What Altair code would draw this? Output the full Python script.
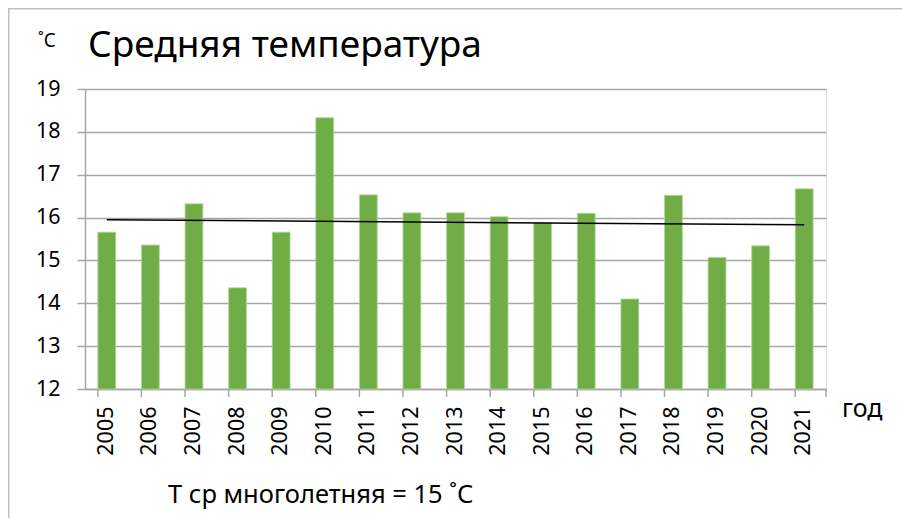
import altair as alt
import pandas as pd

# ---- data ----
years = ["2005", "2006", "2007", "2008", "2009", "2010", "2011", "2012", "2013",
         "2014", "2015", "2016", "2017", "2018", "2019", "2020", "2021"]
temps = [15.66, 15.36, 16.32, 14.36, 15.66, 18.33, 16.53, 16.11, 16.11,
         16.02, 15.88, 16.10, 14.10, 16.52, 15.07, 15.34, 16.67]
y_ticks = [12, 13, 14, 15, 16, 17, 18, 19]

title_text = "Средняя температура"
unit_text = "˚С"
x_unit_text = "год"
note_text = "T ср многолетняя = 15 ˚С"

FONT = "Noto Sans"
GRID = "#a6a6a6"
W, H = 741, 300

df = pd.DataFrame({"year": years, "yr": [int(y) for y in years], "temp": temps})
one = pd.DataFrame({"k": [0]})

x_scale = alt.Scale(paddingInner=0.59, paddingOuter=0.295)
x_enc = alt.X("year:N", title=None, scale=x_scale,
              axis=alt.Axis(labelAngle=270, labelFontSize=21.5, labelFont=FONT,
                            labelColor="black", labelPadding=17, ticks=False,
                            domainColor=GRID, domainWidth=1.5, grid=False))
y_enc = alt.Y("temp:Q", title=None,
              scale=alt.Scale(domain=[12, 19], zero=False, nice=False),
              axis=alt.Axis(values=y_ticks, labelFontSize=21.5, labelFont=FONT,
                            labelColor="black", labelPadding=17, tickSize=8,
                            tickColor=GRID, tickWidth=1.5, domainColor=GRID,
                            domainWidth=1.5, gridColor=GRID, gridWidth=1.5))

bars = alt.Chart(df).mark_bar(color="#70AD47", stroke="#b5d89c", strokeWidth=0.8).encode(
    x=x_enc, y=y_enc, y2=alt.datum(12)
)

trend = alt.Chart(df).transform_regression("yr", "temp").transform_calculate(
    year="toString(datum.yr)"
).mark_line(color="black", strokeWidth=1.5).encode(
    x=alt.X("year:N", scale=x_scale, title=None),
    y=alt.Y("temp:Q"),
)

xticks = alt.Chart(df).mark_rule(color=GRID, strokeWidth=1.5).encode(
    x=alt.X("year:N", bandPosition=0, scale=x_scale, title=None),
    y=alt.value(H), y2=alt.value(H + 8),
)
last_tick = alt.Chart(one).mark_rule(color=GRID, strokeWidth=1.5).encode(
    x=alt.value(W), y=alt.value(H), y2=alt.value(H + 8)
)

def label(text, x, y, size):
    return alt.Chart(one).mark_text(
        text=text, align="left", baseline="alphabetic", font=FONT,
        fontSize=size, color="black"
    ).encode(x=alt.value(x), y=alt.value(y))

title = label(title_text, 3, -32, 37)
unit = label(unit_text, -47, -42, 19)
xunit = label(x_unit_text, 757, 328, 25)
note = label(note_text, 83, 414, 25.5)

border_top = alt.Chart(one).mark_rule(color="#bfbfbf", strokeWidth=1.5).encode(
    x=alt.value(-77), x2=alt.value(W + 76), y=alt.value(-80.25)
)
border_left = alt.Chart(one).mark_rule(color="#bfbfbf", strokeWidth=1.5).encode(
    x=alt.value(-76.25), y=alt.value(-81), y2=alt.value(H + 129)
)

chart = alt.layer(
    bars, trend, xticks, last_tick, title, unit, xunit, note, border_top, border_left
).properties(
    width=W, height=H,
    padding={"left": 77, "top": 81, "right": 76, "bottom": 129},
    autosize=alt.AutoSizeParams(type="none"),
).configure_view(stroke="transparent").configure(background="white")

chart.save("out.html", embed_options={"renderer": "svg", "actions": False})
